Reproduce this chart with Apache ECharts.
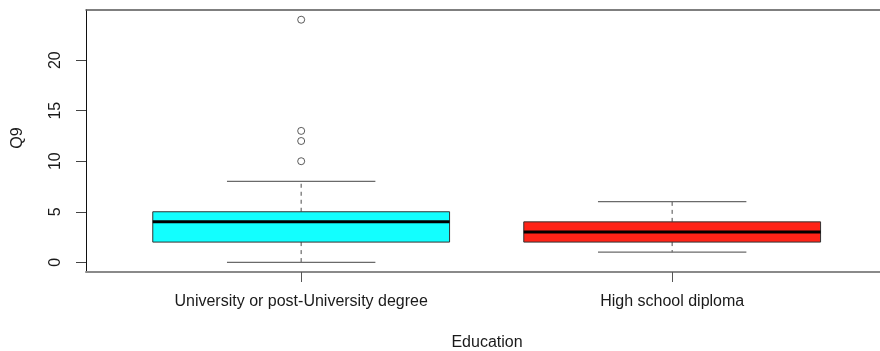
<!DOCTYPE html>
<html>
<head>
<meta charset="utf-8">
<script src="https://cdn.jsdelivr.net/npm/echarts@6/dist/echarts.min.js"></script>
<style>html,body{margin:0;padding:0;background:#fff}#c{width:880px;height:351px}</style>
</head>
<body>
<div id="c"></div>
<script>
const categories = ['University or post-University degree', 'High school diploma'];
const boxMin = [0, 1];
const boxQ1 = [2, 2];
const boxMedian = [4, 3];
const boxQ3 = [5, 4];
const boxMax = [8, 6];
const outlierGroup = [1, 1, 1, 1];
const outlierValues = [10, 12, 13, 24];
const yTicks = [0, 5, 10, 15, 20];
const xTicks = [1, 2];

const fills = ['#12FFFF', '#FF2317'];
const boxData = categories.map((c, i) => [i + 1, boxMin[i], boxQ1[i], boxMedian[i], boxQ3[i], boxMax[i]]);
const outlierData = outlierValues.map((v, i) => [outlierGroup[i], v]);

const chart = echarts.init(document.getElementById('c'), null, {renderer: 'canvas'});
const FONT = 'Liberation Sans, Arial, Helvetica, sans-serif';

function renderBox(params, api) {
  const x = api.value(0);
  const mn = api.value(1), q1 = api.value(2), md = api.value(3), q3 = api.value(4), mx = api.value(5);
  const hw = 0.4, cw = 0.2;
  const pMin = api.coord([x, mn]), pQ1 = api.coord([x, q1]), pMd = api.coord([x, md]);
  const pQ3 = api.coord([x, q3]), pMax = api.coord([x, mx]);
  const xl = api.coord([x - hw, md])[0], xr = api.coord([x + hw, md])[0];
  const cl = api.coord([x - cw, md])[0], cr = api.coord([x + cw, md])[0];
  const wStyle = {stroke: '#6a6a6a', lineWidth: 1.2, lineDash: [4, 4]};
  const cStyle = {stroke: '#6a6a6a', lineWidth: 1.2};
  return {
    type: 'group',
    children: [
      {type: 'line', shape: {x1: pQ3[0], y1: pQ3[1], x2: pMax[0], y2: pMax[1]}, style: wStyle},
      {type: 'line', shape: {x1: pQ1[0], y1: pQ1[1], x2: pMin[0], y2: pMin[1]}, style: wStyle},
      {type: 'line', shape: {x1: cl, y1: pMax[1], x2: cr, y2: pMax[1]}, style: cStyle},
      {type: 'line', shape: {x1: cl, y1: pMin[1], x2: cr, y2: pMin[1]}, style: cStyle},
      {type: 'rect', shape: {x: xl, y: pQ3[1], width: xr - xl, height: pQ1[1] - pQ3[1]},
        style: {fill: fills[params.dataIndex], stroke: '#333', lineWidth: 1}},
      {type: 'line', shape: {x1: xl, y1: pMd[1], x2: xr, y2: pMd[1]}, style: {stroke: '#000', lineWidth: 3}}
    ]
  };
}

chart.setOption({
  animation: false,
  backgroundColor: '#fff',
  grid: {left: 86, right: 0, top: 10, bottom: 79, show: false},
  xAxis: [{
    type: 'value', min: 0.42, max: 2.5602, position: 'bottom',
    axisLine: {show: true, onZero: false, lineStyle: {color: '#8a8a8a', width: 2}},
    axisTick: {show: true, customValues: xTicks, length: 10, lineStyle: {color: '#555', width: 1}},
    axisLabel: {customValues: xTicks, formatter: v => categories[Math.round(v) - 1] || '',
      color: '#1a1a1a', fontSize: 16, fontFamily: FONT, margin: 22},
    splitLine: {show: false}
  }, {
    type: 'value', min: 0.42, max: 2.5602, position: 'top',
    axisLine: {show: true, onZero: false, lineStyle: {color: '#555', width: 1.5}},
    axisTick: {show: false}, axisLabel: {show: false}, splitLine: {show: false}
  }],
  yAxis: {
    type: 'value', min: -0.96, max: 24.96,
    axisLine: {show: true, onZero: false, lineStyle: {color: '#111', width: 1}},
    axisTick: {show: true, customValues: yTicks, length: 10, lineStyle: {color: '#444', width: 1}},
    axisLabel: {customValues: yTicks, rotate: 90, color: '#1a1a1a', fontSize: 16, fontFamily: FONT, margin: 22},
    splitLine: {show: false}
  },
  graphic: [
    {type: 'text', x: 18, y: 138, rotation: Math.PI / 2,
      style: {text: 'Q9', fill: '#1a1a1a', font: '16px ' + FONT, align: 'center', verticalAlign: 'middle'}},
    {type: 'text', x: 487, y: 343,
      style: {text: 'Education', fill: '#1a1a1a', font: '16px ' + FONT, align: 'center', verticalAlign: 'middle'}}
  ],
  series: [{
    type: 'custom', renderItem: renderBox, data: boxData,
    encode: {x: 0, y: [1, 2, 3, 4, 5]}, clip: false
  }, {
    type: 'scatter', data: outlierData, symbol: 'circle', symbolSize: 7,
    itemStyle: {color: '#fff', borderColor: '#333', borderWidth: 1}
  }]
});
</script>
</body>
</html>
